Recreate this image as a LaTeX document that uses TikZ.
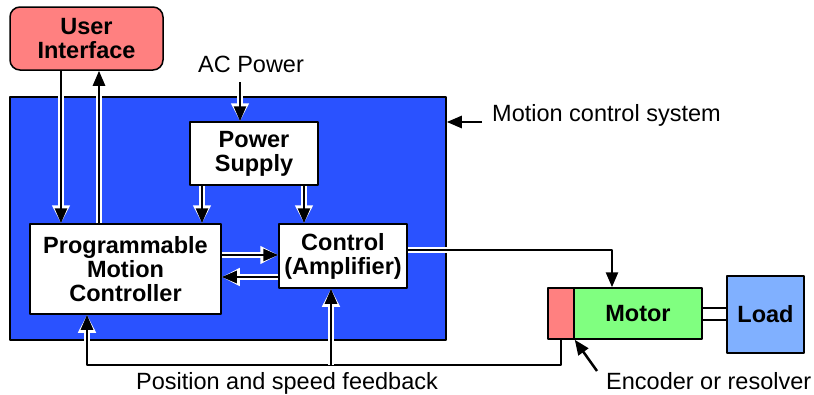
\documentclass[tikz,border=0pt]{standalone}
\usepackage{fontspec}
\setmainfont{Liberation Sans}
\usetikzlibrary{arrows.meta}
\definecolor{sysblue}{RGB}{42,82,255}
\definecolor{uipink}{RGB}{255,128,128}
\definecolor{motgreen}{RGB}{128,255,128}
\definecolor{loadblue}{RGB}{128,176,255}
\tikzset{
  box/.style={draw, line width=1.5pt, fill=white, align=center, inner sep=0pt,
    font=\bfseries\fontsize{23.5}{24}\selectfont},
  lbl/.style={inner sep=0pt, font=\fontsize{23.5}{24}\selectfont},
  sig/.style={line width=2.5pt, -{Triangle[length=15pt,width=12pt]},
    preaction={draw=white, line width=6pt, -{Triangle[length=18pt,width=17pt]}}},
}
\begin{document}
\begin{tikzpicture}[x=1pt,y=-1pt,line join=round]
  \useasboundingbox (0,0) rectangle (814,394);
  % columns and rows of the wires
  \coordinate (xa) at (61,0);
  \coordinate (xb) at (99,0);
  \coordinate (xc) at (202,0);
  \coordinate (xd) at (304,0);
  \coordinate (xm) at (612,0);
  \coordinate (ya) at (0,255);
  \coordinate (yb) at (0,277);
  \coordinate (acin) at (240,82);
  \coordinate (mcs) at (482,122);
  \coordinate (encin) at (597,371);
  \coordinate (fb) at (87,365);
  \coordinate (fc) at (331,365);
  % blocks
  \node[box, fill=sysblue, minimum width=436pt, minimum height=243pt] (sys) at (228,218.5) {};
  \node[box, rounded corners=10pt, fill=uipink, minimum width=153pt, minimum height=63pt] (ui) at (86.5,38.5) {User\\Interface};
  \node[box, minimum width=128pt, minimum height=63pt] (ps) at (254,153.5) {Power\\Supply};
  \node[box, minimum width=191pt, minimum height=90pt] (pmc) at (125.5,269) {Programmable\\Motion\\Controller};
  \node[box, minimum width=128pt, minimum height=64pt] (ctrl) at (343,256) {Control\\(Amplifier)};
  \node[box, fill=uipink, minimum width=26pt, minimum height=51pt] (enc) at (561,313.5) {};
  \node[box, fill=motgreen, minimum width=128pt, minimum height=51pt] (mot) at (638,313.5) {Motor};
  \node[box, fill=loadblue, minimum width=77pt, minimum height=77pt] (load) at (765.5,314.5) {Load};
  \node[box, minimum width=25pt, minimum height=12pt] (shaft) at (714.5,314) {};
  % labels
  \node[lbl] (ac) at (251,64) {AC Power};
  \node[lbl, anchor=west] (mcslbl) at (492,115) {Motion control system};
  \node[lbl] (fblbl) at (287,383) {Position and speed feedback};
  \node[lbl, anchor=west] (enclbl) at (606,381) {Encoder or resolver};
  % wires
  \draw[sig] (xa |- ui.south) -- (xa |- pmc.north);
  \draw[sig] (xb |- pmc.north) -- (xb |- ui.south);
  \draw[sig] (acin) -- (acin |- ps.north);
  \draw[sig] (xc |- ps.south) -- (xc |- pmc.north);
  \draw[sig] (xd |- ps.south) -- (xd |- ctrl.north);
  \draw[sig] (pmc.east |- ya) -- (ctrl.west |- ya);
  \draw[sig] (ctrl.west |- yb) -- (pmc.east |- yb);
  \draw[sig] ([yshift=6pt]ctrl.east) -| (xm |- mot.north);
  \draw[sig] (enc.south) |- (fb) -- (fb |- pmc.south);
  \draw[sig] (fc) -- (fc |- ctrl.south);
  \draw[sig] (mcs) -- (sys.east |- mcs);
  \draw[sig] (encin) -- (enc.south east);
\end{tikzpicture}
\end{document}
